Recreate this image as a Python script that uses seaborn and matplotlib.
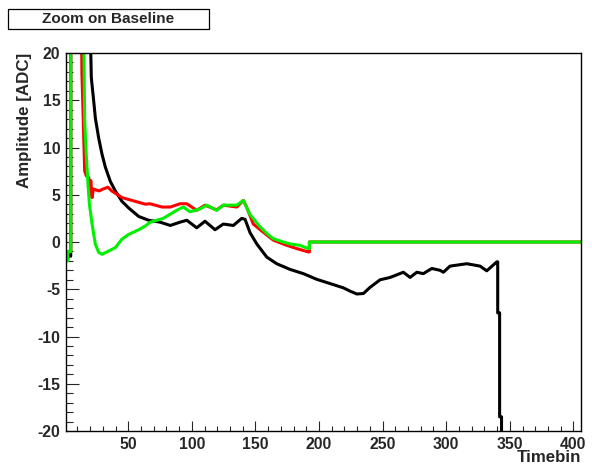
import numpy as np
import pandas as pd
import matplotlib
matplotlib.use("Agg")
import matplotlib.pyplot as plt
from matplotlib.patches import Rectangle
from matplotlib.ticker import MultipleLocator
import seaborn as sns

# --- data (timebin, amplitude in ADC) ---
# values beyond +-20 are off-scale in the original and get clipped by the axes
black_t = [1, 4.7, 4.7, 18.9, 20.9, 22.8, 24.1, 26.7, 29.3, 32.0, 35.9, 39.8, 45.0, 50.3,
           58.2, 66.0, 75.0, 83.0, 90.7, 96.0, 103.8, 110.3, 118.2, 124.7, 132.6, 139.2,
           141.8, 145.7, 151.0, 158.9, 166.7, 177.2, 187.7, 198.2, 208.7, 219.1, 224.4,
           229.7, 234.9, 240.1, 248.0, 255.9, 266.3, 271.6, 276.9, 282.0, 288.7, 295.2,
           297.8, 303.0, 316.2, 326.6, 331.9, 339.8, 340.5, 340.5, 342.0, 342.0, 343.5, 343.5]
black_adc = [-1.5, -1.5, 30, 30, 17.4, 14.9, 13.1, 11.0, 9.3, 7.9, 6.4, 5.4, 4.3, 3.6,
             2.7, 2.3, 2.1, 1.75, 2.1, 2.3, 1.5, 2.2, 1.3, 1.9, 1.75, 2.5,
             2.4, 1.0, -0.2, -1.6, -2.3, -2.9, -3.35, -3.95, -4.4, -4.85, -5.2,
             -5.5, -5.45, -4.8, -4.0, -3.75, -3.2, -3.75, -3.2, -3.35, -2.8, -3.0,
             -3.2, -2.55, -2.3, -2.55, -3.05, -2.1, -2.1, -7.5, -7.5, -18.5, -18.5, -30]

red_t = [1, 2.5, 2.5, 4.7, 4.7, 12.8, 13.5, 15.7, 17.0, 18.9, 19.5, 20.5, 21.5, 22.5,
         27.0, 30.0, 34.0, 37.0, 45.0, 55.5, 63.4, 67.0, 76.5, 83.0, 90.7, 96.0, 103.8,
         110.3, 119.5, 124.7, 135.3, 140.5, 143.0, 148.3, 156.0, 164.0, 174.6, 182.5,
         191.6, 192.4, 192.4, 406]
red_adc = [-1.9, -1.9, -1.0, -1.0, 30, 30, 18.0, 7.5, 7.0, 6.8, 5.0, 6.5, 4.7, 5.6,
           5.4, 5.6, 5.8, 5.4, 4.7, 4.3, 4.0, 4.05, 3.7, 3.7, 4.05, 4.05, 3.35,
           3.9, 3.4, 3.9, 3.7, 4.4, 3.7, 1.9, 1.05, 0.2, -0.35, -0.7,
           -1.05, -1.05, 0, 0]

green_t = [1, 2.3, 2.3, 4.7, 4.7, 14.2, 15.7, 16.8, 18.3, 19.4, 21.5, 24.1, 26.7, 29.3,
           34.6, 39.8, 45.0, 50.3, 58.2, 63.4, 67.3, 77.5, 88.0, 93.3, 98.5, 106.4, 111.7,
           119.5, 124.7, 135.3, 140.5, 145.7, 153.6, 158.9, 164.0, 171.9, 177.2, 185.0,
           187.7, 191.6, 192.4, 192.4, 406]
green_adc = [-2.0, -2.0, -1.0, -1.0, 30, 30, 12.8, 9.6, 6.1, 4.0, 1.9, -0.25, -1.1, -1.3,
             -0.95, -0.6, 0.3, 0.8, 1.3, 1.7, 2.1, 2.5, 3.35, 3.7, 3.2, 3.5, 3.9,
             3.35, 3.9, 3.9, 4.4, 2.9, 1.6, 0.9, 0.35, 0.0, -0.2, -0.35,
             -0.5, -0.7, -0.7, 0, 0]

series = [("black", black_t, black_adc, "#000000"),
          ("red", red_t, red_adc, "#ff0000"),
          ("green", green_t, green_adc, "#00f000")]

sns.set_style("white")
plt.rcParams["font.family"] = ["Liberation Sans", "DejaVu Sans"]
plt.rcParams["font.weight"] = "bold"
plt.rcParams["axes.unicode_minus"] = False

fig = plt.figure(figsize=(5.92, 4.70), dpi=100)
ax = fig.add_axes([66 / 592, 1 - 431 / 470, 515 / 592, 378 / 470])

for name, t, v, col in series:
    df = pd.DataFrame({"t": t, "adc": v})
    sns.lineplot(data=df, x="t", y="adc", ax=ax, color=col, lw=2.2,
                 estimator=None, sort=False)

ax.set_xlim(1, 406)
ax.set_ylim(-20, 20)
ax.xaxis.set_major_locator(MultipleLocator(50))
ax.xaxis.set_minor_locator(MultipleLocator(10))
ax.yaxis.set_major_locator(MultipleLocator(5))
ax.yaxis.set_minor_locator(MultipleLocator(1))
ax.tick_params(axis="x", which="major", direction="in", length=7.2, width=0.8, pad=4,
               labelsize=11.3, bottom=True, top=False)
ax.tick_params(axis="x", which="minor", direction="in", length=3.6, width=0.8,
               bottom=True, top=False)
ax.tick_params(axis="y", which="major", direction="in", length=9.2, width=0.8, pad=4,
               labelsize=11.3, left=True, right=False)
ax.tick_params(axis="y", which="minor", direction="in", length=4.8, width=0.8,
               left=True, right=False)
for lab in ax.get_xticklabels() + ax.get_yticklabels():
    lab.set_fontweight("bold")
for sp in ax.spines.values():
    sp.set_color("black")
    sp.set_linewidth(1.0)

ax.set_xlabel("Timebin", fontsize=12.2, fontweight="bold", loc="right", labelpad=-1)
ax.set_ylabel("Amplitude [ADC]", fontsize=12.2, fontweight="bold", loc="top", labelpad=4)

# title box, ROOT style
fig.add_artist(Rectangle((7.5 / 592, 1 - 28.5 / 470), 201.5 / 592, 20 / 470,
                         transform=fig.transFigure, fc="white", ec="black", lw=0.9))
fig.text(108 / 592, 1 - 19 / 470, "Zoom on Baseline", ha="center", va="center",
         fontsize=11, fontweight="bold")

fig.savefig("out.png", dpi=100, facecolor="white")
